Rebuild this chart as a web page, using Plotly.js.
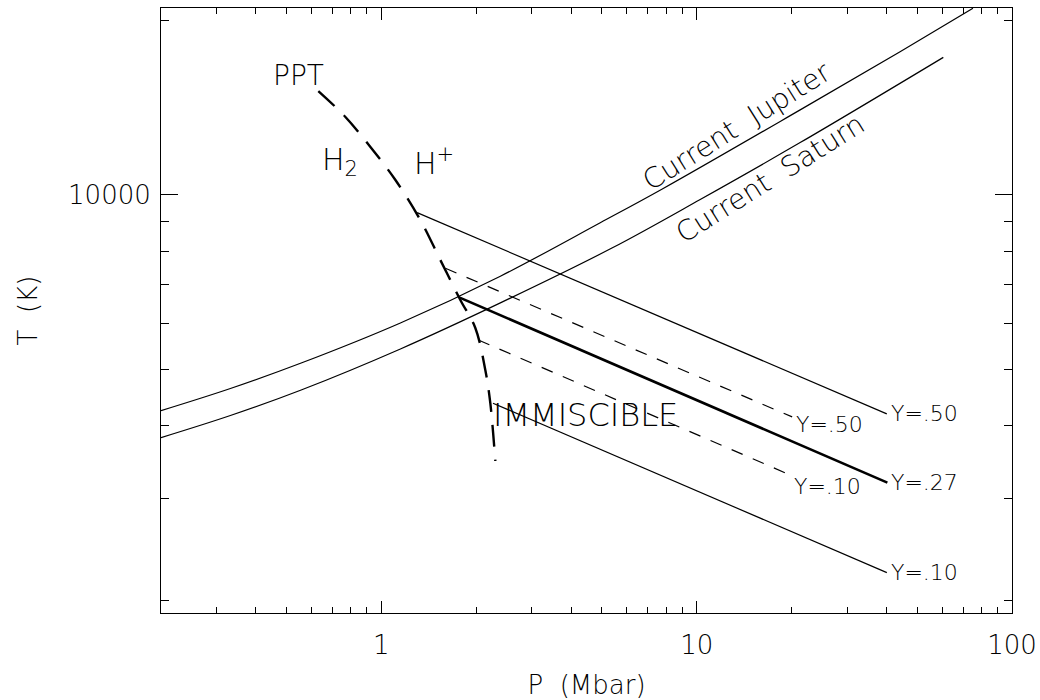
<!DOCTYPE html>
<html>
<head>
<meta charset="utf-8">
<script src="https://cdn.plot.ly/plotly-3.0.1.min.js"></script>
<style>
  html, body { margin: 0; padding: 0; background: #fff; }
  #chart { width: 1040px; height: 700px; }
</style>
</head>
<body>
<div id="chart"></div>
<script>
// Present-day adiabats (P in Mbar, T in K)
const jupiterP = [0.2, 0.332, 0.554, 1.149, 2.384, 4.945, 7.83, 21.29, 44.16, 75.2];
const jupiterT = [4247, 4637, 5126, 6016, 7244, 8956, 10261, 14021, 17665, 20990];
const saturnP = [0.2, 0.332, 0.554, 1.149, 2.384, 5.385, 10.26, 21.29, 60.56];
const saturnT = [3816, 4166, 4606, 5427, 6516, 8101, 9823, 12312, 17270];

// Plasma phase transition boundary
const pptP = [0.631, 0.769, 0.923, 1.108, 1.329, 1.538, 1.780, 1.986, 2.136, 2.215, 2.298];
const pptT = [15110, 13630, 12100, 10614, 9055, 7726, 6592, 5898, 4993, 4380, 3478];

// Helium immiscibility boundaries for several helium mass fractions
const y50SolidP = [1.298, 40.08];
const y50SolidT = [9322, 4194];
const y50DashP = [1.596, 20.08];
const y50DashT = [7475, 4143];
const y27P = [1.772, 40.25];
const y27T = [6653, 3192];
const y10DashP = [2.03, 19.79];
const y10DashT = [5623, 3290];
const y10SolidP = [2.259, 40.1];
const y10SolidT = [4375, 2233];

// Axis ticks
const xMajorVals = [1, 10, 100];
const xMajorText = ['1', '10', '100'];
const xMinorVals = [0.3, 0.4, 0.5, 0.6, 0.7, 0.8, 0.9, 2, 3, 4, 5, 6, 7, 8, 9, 20, 30, 40, 50, 60, 70, 80, 90];
const yMajorVals = [10000];
const yMajorText = ['10000'];
const yMinorVals = [2000, 3000, 4000, 5000, 6000, 7000, 8000, 9000, 20000];

const FONT = 'DejaVu Sans, Liberation Sans, sans-serif';
const lg = Math.log10;

function line(x, y, width, dash, shape) {
  return {
    x: x, y: y, type: 'scatter', mode: 'lines', hoverinfo: 'skip',
    line: { color: '#000', width: width, dash: dash || 'solid', shape: shape || 'linear' }
  };
}

const traces = [
  line(jupiterP, jupiterT, 1.2, 'solid', 'spline'),
  line(saturnP, saturnT, 1.2, 'solid', 'spline'),
  line(pptP, pptT, 2.4, '22px,13px', 'spline'),
  line(y50SolidP, y50SolidT, 1.2),
  line(y50DashP, y50DashT, 1.2, '12px,11px'),
  line(y27P, y27T, 2.6),
  line(y10DashP, y10DashT, 1.2, '12px,11px'),
  line(y10SolidP, y10SolidT, 1.2)
];

// Labels at the ends of the immiscibility lines
function endLabel(text, px, py, dy) {
  const n = px.length - 1;
  return {
    x: lg(px[n]), y: lg(py[n]), xref: 'x', yref: 'y', text: text,
    showarrow: false, xanchor: 'left', yanchor: 'middle', xshift: 2, yshift: dy,
    font: { family: FONT, size: 22, color: '#000', weight: 200 }
  };
}

function freeText(text, p, t, size, angle) {
  return {
    x: lg(p), y: lg(t), xref: 'x', yref: 'y', text: text, showarrow: false,
    xanchor: 'center', yanchor: 'middle', textangle: angle || 0,
    font: { family: FONT, size: size, color: '#000', weight: 200 }
  };
}

const annotations = [
  endLabel('Y=.50', y50SolidP, y50SolidT, 0),
  endLabel('Y=.50', y50DashP, y50DashT, -8),
  endLabel('Y=.27', y27P, y27T, 0),
  endLabel('Y=.10', y10DashP, y10DashT, -12),
  endLabel('Y=.10', y10SolidP, y10SolidT, 0),
  freeText('PPT', 0.546, 16100, 28),
  freeText('H<sub>2</sub>', 0.741, 11444, 30),
  freeText('H<sup>+</sup>', 1.472, 11444, 30),
  freeText('IMMISCIBLE', 4.43, 4176, 32),
  freeText('Current  Jupiter', 13.34, 13150, 28, -32),
  freeText('Current  Saturn', 17.1, 10690, 28, -32)
];

const axisCommon = {
  type: 'log', showgrid: false, zeroline: false,
  showline: true, linecolor: '#000', linewidth: 1, mirror: 'ticks',
  ticks: 'inside', tickcolor: '#000', tickwidth: 1,
  tickmode: 'array',
  tickfont: { family: FONT, size: 26, color: '#000', weight: 200 }
};

const layout = {
  width: 1040, height: 700,
  paper_bgcolor: '#fff', plot_bgcolor: '#fff',
  margin: { l: 161, r: 28, t: 8, b: 87 },
  showlegend: false,
  xaxis: Object.assign({}, axisCommon, {
    range: [lg(0.2), 2],
    tickvals: xMajorVals, ticktext: xMajorText, ticklen: 12,
    ticklabelstandoff: 9,
    minor: { tickmode: 'array', tickvals: xMinorVals, ticks: 'inside', ticklen: 6, tickcolor: '#000', tickwidth: 1 },
    title: { text: 'P  (Mbar)', standoff: 18, font: { family: FONT, size: 26, color: '#000', weight: 200 } }
  }),
  yaxis: Object.assign({}, axisCommon, {
    range: [lg(1902), lg(21010)],
    tickvals: yMajorVals, ticktext: yMajorText, ticklen: 17,
    ticklabelstandoff: 4,
    minor: { tickmode: 'array', tickvals: yMinorVals, ticks: 'inside', ticklen: 8, tickcolor: '#000', tickwidth: 1 },
    title: { text: 'T  (K)', standoff: 22, font: { family: FONT, size: 26, color: '#000', weight: 200 } }
  }),
  annotations: annotations
};

Plotly.newPlot('chart', traces, layout, { staticPlot: true, displayModeBar: false });
</script>
</body>
</html>
